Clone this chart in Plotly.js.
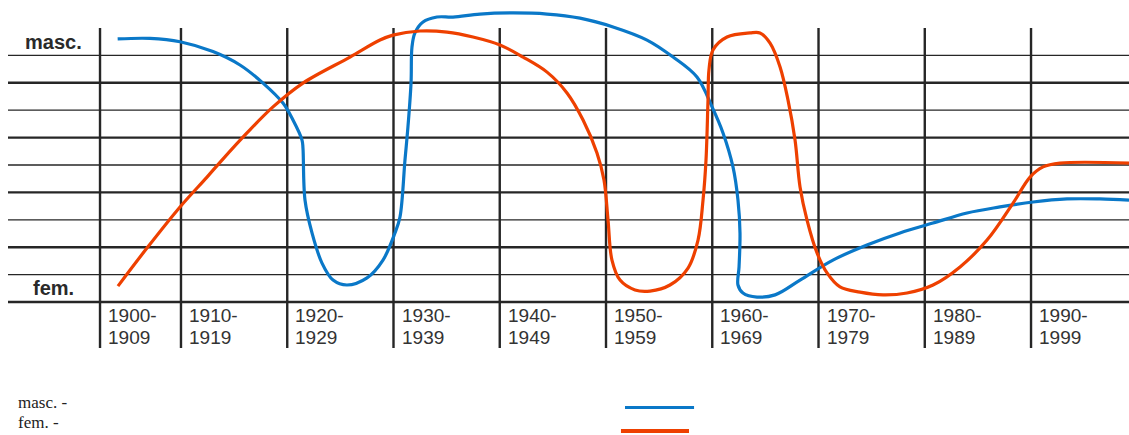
<!DOCTYPE html>
<html>
<head>
<meta charset="utf-8">
<script src="https://cdn.plot.ly/plotly-3.0.1.min.js"></script>
<style>html,body{margin:0;padding:0;background:#fff;}#chart{width:1129px;height:435px;}</style>
</head>
<body>
<div id="chart"></div>
<script>
// ---- data ----
const decades = [1900, 1910, 1920, 1930, 1940, 1950, 1960, 1970, 1980, 1990];
const tickLabels = [['1900-', '1909'], ['1910-', '1919'], ['1920-', '1929'], ['1930-', '1939'], ['1940-', '1949'],
                    ['1950-', '1959'], ['1960-', '1969'], ['1970-', '1979'], ['1980-', '1989'], ['1990-', '1999']];
const rowLines = [0, 1, 2, 3, 4, 5, 6, 7, 8, 9];
const axisLabels = ['masc.', 'fem.'];
const seriesNames = ['masc. -', 'fem. -'];

const mascYear = [1904.04, 1907.08, 1909.91, 1913.01, 1915.55, 1917.72, 1919.60, 1920.54, 1921.39, 1921.48,
  1921.67, 1922.33, 1923.27, 1924.31, 1925.62, 1927.51, 1929.01, 1930.14, 1930.61, 1931.08,
  1931.36, 1931.65, 1931.74, 1932.02, 1932.78, 1934.09, 1935.60, 1938.14, 1941.25, 1944.45,
  1947.55, 1950.66, 1953.86, 1956.31, 1958.56, 1959.98, 1961.01, 1961.95, 1962.42, 1962.61,
  1962.52, 1962.42, 1962.89, 1964.21, 1965.91, 1968.26, 1971.36, 1974.56, 1977.67, 1980.78,
  1983.98, 1987.08, 1990.19, 1993.39, 1996.49, 1999.22];
const mascVal = [9.60, 9.62, 9.50, 9.14, 8.65, 7.99, 7.26, 6.64, 5.91, 5.62,
  3.72, 2.52, 1.42, 0.80, 0.62, 0.88, 1.53, 2.52, 3.10, 5.18,
  6.39, 7.99, 9.31, 9.82, 10.22, 10.40, 10.40, 10.51, 10.55, 10.51,
  10.36, 10.04, 9.56, 8.94, 8.21, 7.12, 6.17, 4.93, 3.72, 2.52,
  1.28, 0.62, 0.33, 0.18, 0.26, 0.80, 1.53, 2.08, 2.52, 2.88,
  3.25, 3.47, 3.65, 3.76, 3.76, 3.72];

const femYear = [1904.07, 1906.80, 1909.91, 1912.45, 1913.86, 1916.21, 1918.66, 1921.48, 1925.91, 1928.73,
  1929.95, 1932.49, 1935.04, 1937.48, 1940.02, 1942.19, 1944.45, 1946.33, 1947.84, 1949.15,
  1949.81, 1950.19, 1950.56, 1951.32, 1952.73, 1954.14, 1956.02, 1957.72, 1958.66, 1959.13,
  1959.41, 1959.60, 1959.69, 1960.07, 1961.39, 1963.55, 1964.49, 1965.44, 1966.38, 1967.13,
  1967.79, 1968.26, 1968.92, 1969.86, 1970.80, 1972.02, 1973.91, 1976.07, 1978.33, 1980.78,
  1983.32, 1985.86, 1988.31, 1989.91, 1991.13, 1992.73, 1999.22];
const femVal = [0.58, 1.97, 3.47, 4.56, 5.18, 6.17, 7.12, 7.99, 8.94, 9.56,
  9.74, 9.89, 9.85, 9.67, 9.38, 8.94, 8.39, 7.63, 6.64, 5.44,
  4.45, 2.99, 1.53, 0.80, 0.44, 0.40, 0.62, 1.24, 2.26, 3.72,
  5.18, 7.37, 8.47, 9.20, 9.67, 9.82, 9.82, 9.45, 8.58, 7.37,
  5.91, 4.20, 2.99, 1.79, 1.06, 0.55, 0.36, 0.26, 0.33, 0.62,
  1.28, 2.26, 3.61, 4.56, 4.93, 5.07, 5.07];

// ---- style ----
const colors = ['#0a78c8', '#ee4000'];
const gridColor = '#262626';
const firstLine = 1902.38;     // left boundary of the first column
const yBottom = -1.68;         // bottom of the vertical separators
const yTop = 10;
const labelRows = [-0.49, -1.31];

const traces = [
  {x: mascYear, y: mascVal, name: seriesNames[0], mode: 'lines',
   line: {color: colors[0], width: 3.2, shape: 'spline', smoothing: 1}, hoverinfo: 'skip'},
  {x: femYear, y: femVal, name: seriesNames[1], mode: 'lines',
   line: {color: colors[1], width: 3.2, shape: 'spline', smoothing: 1}, hoverinfo: 'skip'}
];

const shapes = [];
rowLines.forEach(function (r) {
  shapes.push({type: 'line', layer: 'below', xref: 'paper', yref: 'y', x0: 0, x1: 1, y0: r, y1: r,
    line: {color: gridColor, width: (r % 2 === 0) ? 2.4 : 1.3}});
});
decades.forEach(function (d, i) {
  const xv = i === 0 ? firstLine : d;
  shapes.push({type: 'line', layer: 'below', xref: 'x', yref: 'y', x0: xv, x1: xv, y0: yBottom, y1: yTop,
    line: {color: gridColor, width: 2.4}});
});
// legend samples
const legendLineY = [-0.171, -0.2385];
const legendTextY = [-0.1580, -0.2155];
const legendX = [[0.5504, 0.612], [0.5468, 0.6075]];
seriesNames.forEach(function (n, i) {
  shapes.push({type: 'line', xref: 'paper', yref: 'paper', x0: legendX[i][0], x1: legendX[i][1],
    y0: legendLineY[i], y1: legendLineY[i], line: {color: colors[i], width: i === 0 ? 3.2 : 4}});
});

const annotations = [];
decades.forEach(function (d, i) {
  tickLabels[i].forEach(function (t, k) {
    annotations.push({x: i === 0 ? firstLine : d, y: labelRows[k], xref: 'x', yref: 'y', xanchor: 'left', yanchor: 'middle',
      xshift: 6, text: t, showarrow: false, align: 'left',
      font: {family: 'Liberation Sans, Arial, sans-serif', size: 19, color: '#333333'}});
  });
});
annotations.push({x: 0.041, y: 9.5, xref: 'paper', yref: 'y', xanchor: 'center', yanchor: 'middle',
  text: '<b>' + axisLabels[0] + '</b>', showarrow: false,
  font: {family: 'Liberation Sans, Arial, sans-serif', size: 20, color: '#2a2a2a'}});
annotations.push({x: 0.041, y: 0.5, xref: 'paper', yref: 'y', xanchor: 'center', yanchor: 'middle',
  text: '<b>' + axisLabels[1] + '</b>', showarrow: false,
  font: {family: 'Liberation Sans, Arial, sans-serif', size: 20, color: '#2a2a2a'}});
seriesNames.forEach(function (n, i) {
  annotations.push({x: 0.008, y: legendTextY[i], xref: 'paper', yref: 'paper', xanchor: 'left', yanchor: 'middle',
    text: n, showarrow: false, borderpad: 0,
    font: {family: 'Liberation Serif, Times New Roman, serif', size: 17, color: '#222222'}});
});

const layout = {
  width: 1129, height: 435,
  margin: {l: 8, r: 0, t: 0, b: 87, pad: 0},
  paper_bgcolor: '#ffffff', plot_bgcolor: '#ffffff',
  showlegend: false,
  xaxis: {range: [1893.72, 1999.22], visible: false, fixedrange: true},
  yaxis: {range: [-1.679, 11.022], visible: false, fixedrange: true},
  shapes: shapes,
  annotations: annotations
};

Plotly.newPlot('chart', traces, layout, {staticPlot: true, displayModeBar: false});
</script>
</body>
</html>
